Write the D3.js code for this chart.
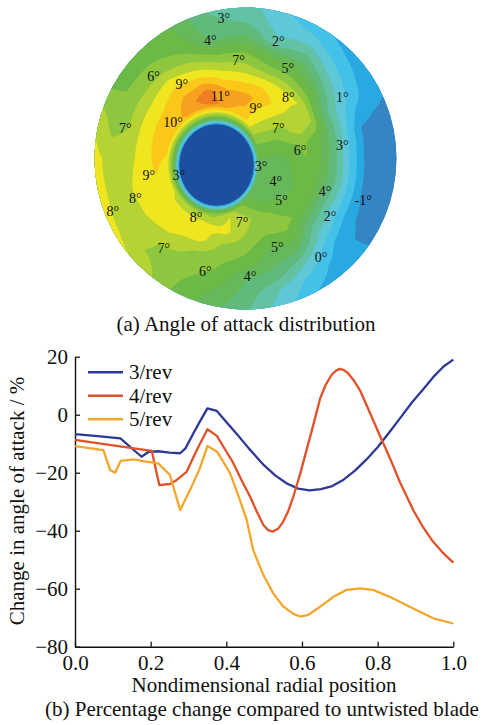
<!DOCTYPE html>
<html>
<head>
<meta charset="utf-8">
<script src="https://cdn.jsdelivr.net/npm/d3@7"></script>
<style>
  html, body { margin: 0; padding: 0; background: #fff; }
  svg { display: block; }
  text { font-family: "Liberation Serif", "Times New Roman", serif; fill: #111; }
</style>
</head>
<body>
<svg id="fig" width="484" height="725"></svg>
<script>
// ---------------- (a) angle of attack over the rotor disk (degrees) ----------------
// Polar stations: azimuth (deg, counter-clockwise from the right) and radius r/R.
const azimuths = [0, 15, 30, 45, 60, 75, 90, 105, 120, 135, 150, 165,
                  180, 195, 210, 225, 240, 255, 270, 285, 300, 315, 330, 345];
const radii = [0, 0.25, 0.4, 0.5, 0.6, 0.7, 0.8, 0.9, 1.0];
// one row per azimuth, one value per radial station
const aoa = [
  [5, 4.8, 6.0, 5.0, 3.1, 0.7, -1.3, -1.5, -1.6],
  [5, 5.5, 6.2, 5.2, 3.4, 0.9, -1.1, -1.4, -1.4],
  [5, 6.0, 7.6, 7.1, 3.5, 1.8, 0.6, -0.3, -0.8],
  [5, 6.8, 7.6, 8.0, 5.5, 3.3, 1.6, 0.4, -0.5],
  [5, 7.5, 8.8, 8.2, 6.3, 4.6, 3.0, 1.3, 0.3],
  [5, 8.2, 9.5, 8.8, 6.5, 4.8, 2.2, 1.5, 1.2],
  [5, 9.0, 10.5, 9.0, 7.4, 6.0, 4.3, 3.0, 2.5],
  [5, 8.0, 11.0, 9.6, 8.0, 6.2, 4.0, 3.2, 3.0],
  [5, 7.0, 11.0, 11.6, 9.3, 7.5, 6.0, 5.3, 5.0],
  [5, 7.0, 10.5, 10.8, 9.8, 8.5, 6.8, 5.9, 5.5],
  [5, 8.0, 9.0, 9.8, 9.3, 8.2, 7.0, 6.0, 5.7],
  [5, 8.0, 9.0, 9.8, 9.3, 8.3, 7.0, 6.6, 7.6],
  [5, 8.0, 8.5, 8.8, 9.2, 8.3, 7.4, 7.6, 8.4],
  [5, 8.0, 8.5, 8.6, 8.9, 8.6, 7.8, 7.6, 8.5],
  [5, 7.0, 7.5, 7.5, 8.7, 8.5, 7.6, 7.4, 8.3],
  [5, 6.0, 6.0, 7.8, 8.6, 8.0, 7.0, 6.9, 7.8],
  [5, 6.0, 6.0, 8.1, 8.5, 7.0, 6.5, 6.2, 6.0],
  [5, 5.0, 8.0, 8.3, 6.8, 6.2, 5.8, 5.0, 4.5],
  [5, 5.0, 7.3, 7.0, 6.3, 5.5, 4.0, 3.6, 3.2],
  [5, 4.5, 6.5, 6.3, 5.0, 4.3, 3.5, 2.0, 1.4],
  [5, 4.2, 5.8, 6.5, 5.5, 4.0, 2.0, 0.6, -0.1],
  [5, 4.5, 5.1, 5.6, 3.5, 1.8, 0.2, -0.6, -0.8],
  [5, 4.0, 5.3, 5.0, 3.0, 1.0, -0.8, -1.3, -1.1],
  [5, 4.5, 5.8, 5.0, 3.3, 0.9, -1.05, -1.4, -1.4]
];
// hub cut-out (disk units, y up) and the steep rise of the field around its rim
const hubCentre = [-0.192, -0.043];
const hubSemiAxes = [0.245, 0.268];
const hubRimDistance = [1.0, 1.01, 1.03, 1.06, 1.09, 1.12, 1.16, 1.22, 1.3, 1.4, 1.5];
const hubRimValue = [-2.2, -1.0, 0, 1.5, 2.8, 4.0, 5.2, 6.5, 8.0, 9.5, 11.0];

const contourLevels = [-2, -1, 0, 1, 2, 3, 4, 5, 6, 7, 8, 9, 10, 11];
const hubColour = "#1d4f9e";
const bandColours = ["#3585c5", "#29a9e1", "#44c1e8", "#5ec8d8", "#63c1a6", "#60ba7b",
                     "#66b85a", "#6db947", "#8dc63f", "#b6d334", "#efe61f", "#fbc71b",
                     "#f6a11f", "#ee7d23"];

// contour labels: value, azimuth (deg), r/R
const labelValues = [3, 4, 2, 7, 5, 6, 9, 11, 8, 1, 9, 7, 10, 7, 3, 6, 3,
                     9, 3, 4, 4, 8, 5, -1, 8, 2, 8, 7, 7, 5, 0, 6, 4];
const labelAzimuth = [98.8, 106.5, 74.4, 94.0, 64.9, 138.1, 130.6, 112.0, 55.3, 32.6, 78.5,
                      165.6, 153.1, 42.6, 7.9, 8.9, 333.3, 189.5, 193.6, 323.7, 337.6, 199.7,
                      311.3, 340.7, 201.7, 325.6, 229.9, 266.8, 227.6, 289.7, 307.5, 250.3, 272.2];
const labelRadius = [0.940, 0.819, 0.810, 0.654, 0.660, 0.817, 0.647, 0.446, 0.498, 0.760, 0.339,
                     0.822, 0.538, 0.295, 0.647, 0.365, 0.115, 0.650, 0.455, 0.248, 0.570, 0.775,
                     0.363, 0.826, 0.946, 0.678, 0.509, 0.421, 0.803, 0.625, 0.822, 0.789, 0.781];

// ---------------- (b) percentage change along the blade ----------------
const rev3X = [0, 0.06, 0.12, 0.176, 0.195, 0.22, 0.25, 0.278, 0.292, 0.313, 0.33, 0.35, 0.375,
               0.40, 0.43, 0.46, 0.50, 0.53, 0.56, 0.59, 0.62, 0.65, 0.68, 0.71, 0.74, 0.77,
               0.80, 0.83, 0.86, 0.89, 0.92, 0.95, 0.975, 1.0];
const rev3Y = [-6.7, -7.4, -8.2, -14.5, -12.8, -12.6, -13.1, -13.3, -11.6, -6.4, -2.4, 2.2, 1.3,
               -2.5, -7.0, -11.7, -17.5, -21.0, -23.7, -25.5, -26.1, -25.7, -24.6, -22.4, -19.3, -15.5,
               -11.2, -6.2, -1.1, 4.1, 8.7, 13.4, 16.7, 19.0];
const rev4X = [0, 0.1, 0.203, 0.223, 0.251, 0.269, 0.295, 0.322, 0.35, 0.375, 0.40, 0.419, 0.44,
               0.463, 0.48, 0.498, 0.51, 0.523, 0.537, 0.549, 0.563, 0.577, 0.595, 0.612, 0.63,
               0.648, 0.663, 0.678, 0.69, 0.70, 0.711, 0.722, 0.737, 0.753, 0.77, 0.788, 0.805,
               0.823, 0.841, 0.859, 0.877, 0.894, 0.918, 0.943, 0.97, 1.0];
const rev4Y = [-8.7, -10.6, -12.5, -24.3, -23.9, -22.5, -19.7, -12.2, -5.0, -7.3, -12.7, -16.8, -22.5,
               -28.3, -33.3, -38.0, -39.8, -40.3, -39.3, -37.2, -33.5, -28.3, -20.5, -12.2, -3.5,
               5.6, 10.4, 13.7, 15.2, 15.8, 15.4, 14.3, 11.8, 8.5, 3.5, -1.8, -7.0,
               -12.2, -17.6, -23.3, -28.2, -32.9, -38.3, -43.2, -47.3, -51.0];
const rev5X = [0, 0.075, 0.093, 0.106, 0.121, 0.154, 0.189, 0.22, 0.251, 0.278, 0.304, 0.33, 0.35,
               0.376, 0.41, 0.432, 0.454, 0.471, 0.497, 0.524, 0.551, 0.577, 0.595, 0.617, 0.648,
               0.683, 0.718, 0.753, 0.788, 0.832, 0.894, 0.947, 1.0];
const rev5Y = [-10.8, -12.2, -19.1, -20.0, -15.9, -15.4, -16.2, -16.8, -20.8, -32.9, -26.0, -18.5, -10.8,
               -12.8, -20.2, -28.0, -36.3, -46.7, -55.0, -61.6, -66.2, -68.7, -69.6, -69.0, -66.2,
               -62.8, -60.4, -59.9, -60.4, -62.8, -66.8, -70.2, -72.0];
const seriesNames = ["3/rev", "4/rev", "5/rev"];
const seriesColours = ["#2e3995", "#e1512a", "#f3a62a"];
const xTicks = [0, 0.2, 0.4, 0.6, 0.8, 1.0];
const yTicks = [20, 0, -20, -40, -60, -80];

// =====================================================================
const svg = d3.select("#fig");
svg.append("rect").attr("width", 484).attr("height", 725).attr("fill", "#fff");

// ---- disk plot ----
const disk = { cx: 245.5, cy: 158.5, r: 151 };
const dX = d3.scaleLinear().domain([-1, 1]).range([disk.cx - disk.r, disk.cx + disk.r]);
const dY = d3.scaleLinear().domain([-1, 1]).range([disk.cy + disk.r, disk.cy - disk.r]);

const azStep = azimuths[1] - azimuths[0];
function fieldAt(theta, r) {
  const n = azimuths.length;
  const t = theta / azStep;
  const i0 = ((Math.floor(t) % n) + n) % n, i1 = (i0 + 1) % n, ft = t - Math.floor(t);
  const rr = Math.min(r, 1);
  let j = d3.bisectRight(radii, rr) - 1;
  j = Math.max(0, Math.min(radii.length - 2, j));
  const fr = (rr - radii[j]) / (radii[j + 1] - radii[j]);
  const a = aoa[i0][j] * (1 - fr) + aoa[i0][j + 1] * fr;
  const b = aoa[i1][j] * (1 - fr) + aoa[i1][j + 1] * fr;
  return a * (1 - ft) + b * ft;
}
const rimScale = d3.scaleLinear().domain(hubRimDistance).range(hubRimValue);
function hubLimit(u, v) {
  const e = Math.hypot((u - hubCentre[0]) / hubSemiAxes[0], (v - hubCentre[1]) / hubSemiAxes[1]);
  if (e < hubRimDistance[0]) return -3;
  if (e >= hubRimDistance[hubRimDistance.length - 1]) return Infinity;
  return rimScale(e);
}

const gx0 = Math.floor(disk.cx - disk.r) - 2, gy0 = Math.floor(disk.cy - disk.r) - 2;
const gw = Math.ceil(2 * disk.r) + 5, gh = gw;
const grid = new Float64Array(gw * gh);
for (let j = 0; j < gh; j++) {
  for (let i = 0; i < gw; i++) {
    const u = dX.invert(gx0 + i + 0.5), v = dY.invert(gy0 + j + 0.5);
    let th = Math.atan2(v, u) * 180 / Math.PI;
    if (th < 0) th += 360;
    grid[j * gw + i] = Math.min(fieldAt(th, Math.hypot(u, v)), hubLimit(u, v));
  }
}
const bands = d3.contours().size([gw, gh]).thresholds(contourLevels)(grid);
const geo = d3.geoPath(d3.geoIdentity().translate([gx0, gy0]));

const defs = svg.append("defs");
defs.append("clipPath").attr("id", "diskClip")
  .append("circle").attr("cx", disk.cx).attr("cy", disk.cy).attr("r", disk.r);

const gDisk = svg.append("g").attr("clip-path", "url(#diskClip)");
gDisk.append("circle").attr("cx", disk.cx).attr("cy", disk.cy).attr("r", disk.r).attr("fill", hubColour);
gDisk.selectAll("path.band").data(bands).join("path")
  .attr("class", "band")
  .attr("d", geo)
  .attr("fill", (d, k) => bandColours[k]);

gDisk.selectAll("text.lbl").data(labelValues).join("text")
  .attr("class", "lbl")
  .attr("x", (d, k) => dX(labelRadius[k] * Math.cos(labelAzimuth[k] * Math.PI / 180)))
  .attr("y", (d, k) => dY(labelRadius[k] * Math.sin(labelAzimuth[k] * Math.PI / 180)))
  .attr("dy", "0.35em")
  .attr("text-anchor", "middle")
  .attr("font-size", 14)
  .text(d => d + "°");

svg.append("text").attr("x", 246).attr("y", 330.5).attr("text-anchor", "middle")
  .attr("font-size", 21).text("(a) Angle of attack distribution");

// ---- line chart ----
const x = d3.scaleLinear().domain([0, 1]).range([75, 453.3]);
const y = d3.scaleLinear().domain([-80, 20]).range([646.7, 356.7]);

const gx = svg.append("g").attr("transform", `translate(0,${y(-80)})`)
  .call(d3.axisBottom(x).tickValues(xTicks).tickFormat(d3.format(".1f"))
    .tickSizeInner(-5).tickSizeOuter(0).tickPadding(8));
const gy = svg.append("g").attr("transform", `translate(${x(0)},0)`)
  .call(d3.axisLeft(y).tickValues(yTicks).tickSizeInner(-5).tickSizeOuter(0).tickPadding(7));
[gx, gy].forEach(g => {
  g.selectAll(".domain").attr("stroke", "#111").attr("stroke-width", 1.4);
  g.selectAll(".tick line").attr("stroke", "#111").attr("stroke-width", 1.3);
  g.selectAll(".tick text").attr("font-size", 21).attr("fill", "#111")
    .attr("font-family", "\"Liberation Serif\", \"Times New Roman\", serif");
});

const seriesX = [rev3X, rev4X, rev5X];
const seriesY = [rev3Y, rev4Y, rev5Y];
const line = d3.line().x(d => x(d[0])).y(d => y(d[1]));
seriesNames.forEach((name, k) => {
  svg.append("path")
    .datum(seriesX[k].map((xv, i) => [xv, seriesY[k][i]]))
    .attr("fill", "none")
    .attr("stroke", seriesColours[k])
    .attr("stroke-width", 2.3)
    .attr("stroke-linejoin", "round")
    .attr("d", line);
});

// legend
const legend = svg.append("g");
seriesNames.forEach((name, k) => {
  const ly = 372.3 + k * 23.5;
  legend.append("line").attr("x1", 88).attr("x2", 123).attr("y1", ly).attr("y2", ly)
    .attr("stroke", seriesColours[k]).attr("stroke-width", 2.5);
  legend.append("text").attr("x", 129).attr("y", ly + 7).attr("font-size", 21).text(name);
});

svg.append("text").attr("x", 264).attr("y", 692).attr("text-anchor", "middle")
  .attr("font-size", 21).text("Nondimensional radial position");
svg.append("text").attr("transform", "rotate(-90)").attr("x", -501).attr("y", 23.5)
  .attr("text-anchor", "middle").attr("font-size", 21).text("Change in angle of attack / %");
svg.append("text").attr("x", 45).attr("y", 715.5)
  .attr("font-size", 21).text("(b) Percentage change compared to untwisted blade");
</script>
</body>
</html>
